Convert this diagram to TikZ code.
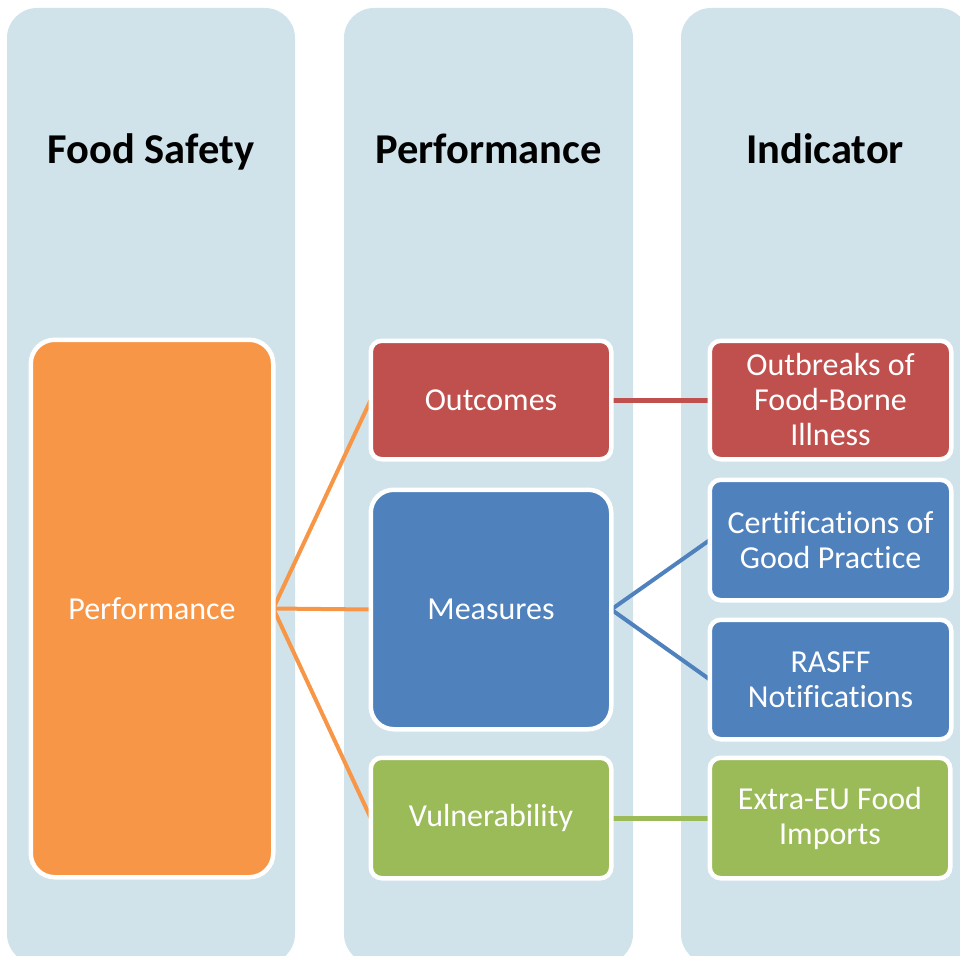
\documentclass[tikz,border=0pt]{standalone}
\usepackage{fontspec}
\setmainfont{Carlito}[Ligatures=NoCommon]
\pgfdeclarelayer{bg}
\pgfsetlayers{bg,main}
\definecolor{colfill}{HTML}{D0E2EA}
\definecolor{orangeA}{HTML}{F79646}
\definecolor{redA}{HTML}{C0504D}
\definecolor{blueA}{HTML}{4F81BD}
\definecolor{greenA}{HTML}{9BBB59}
\begin{document}
\begin{tikzpicture}[x=1pt,y=-1pt,
  column/.style={fill=colfill, rounded corners=30pt},
  head/.style={font=\fontsize{42.5}{50}\selectfont\bfseries, anchor=base},
  card/.style={draw=white, line width=4.5pt, text=white, align=center,
    inner sep=0pt, outer sep=0pt, font=\fontsize{32}{35}\selectfont},
  link/.style={line width=4pt}]
\useasboundingbox (0,0) rectangle (960,955);

% three background columns
\begin{pgfonlayer}{bg}
  \begin{scope}
    \clip (0,0) rectangle (960,955);
    \fill[column] (7,8) rectangle (295,964);
    \fill[column] (344,8) rectangle (633,964);
    \fill[column] (681,8) rectangle (969,964);
  \end{scope}
\end{pgfonlayer}

% column headings
\node[head] (h1) at (151,163) {Food Safety};
\node[head] (h2) at (488.5,163) {Performance};
\node[head] (h3) at (825,163) {Indicator};

% boxes
\node[card, fill=orangeA, minimum width=242.5pt, minimum height=537.5pt,
  rounded corners=24pt] (perf) at (152,608.5) {Performance};
\node[card, fill=redA, minimum width=240.5pt, minimum height=118.5pt,
  rounded corners=11pt] (outc) at (491,400) {Outcomes};
\node[card, fill=blueA, minimum width=240.5pt, minimum height=239.5pt,
  rounded corners=23pt] (meas) at (491,609.5) {Measures};
\node[card, fill=greenA, minimum width=240.5pt, minimum height=120.5pt,
  rounded corners=11pt] (vuln) at (491,818) {Vulnerability};

\node[card, fill=redA, minimum width=241.5pt, minimum height=118.5pt,
  rounded corners=11pt] (outb) at (830.5,400) {Outbreaks of\\Food-Borne\\Illness};
\node[card, fill=blueA, minimum width=241.5pt, minimum height=120.5pt,
  rounded corners=11pt] (cert) at (830.5,540) {Certifications of\\Good Practice};
\node[card, fill=blueA, minimum width=241.5pt, minimum height=119.5pt,
  rounded corners=11pt] (rasff) at (830.5,679.5) {RASFF\\Notifications};
\node[card, fill=greenA, minimum width=240.5pt, minimum height=120.5pt,
  rounded corners=11pt] (extra) at (830,818) {Extra-EU Food\\Imports};

% connectors, kept beneath the white box borders
\begin{pgfonlayer}{bg}
  \draw[link, orangeA] (perf.east) -- (outc.west);
  \draw[link, orangeA] (perf.east) -- (meas.west);
  \draw[link, orangeA] (perf.east) -- (vuln.west);
  \draw[link, redA, line width=5pt] (outc.east) -- (outb.west);
  \draw[link, blueA] (meas.east) -- (cert.west);
  \draw[link, blueA] (meas.east) -- (rasff.west);
  \draw[link, greenA, line width=5pt] (vuln.east) -- (extra.west);
\end{pgfonlayer}
\end{tikzpicture}
\end{document}
